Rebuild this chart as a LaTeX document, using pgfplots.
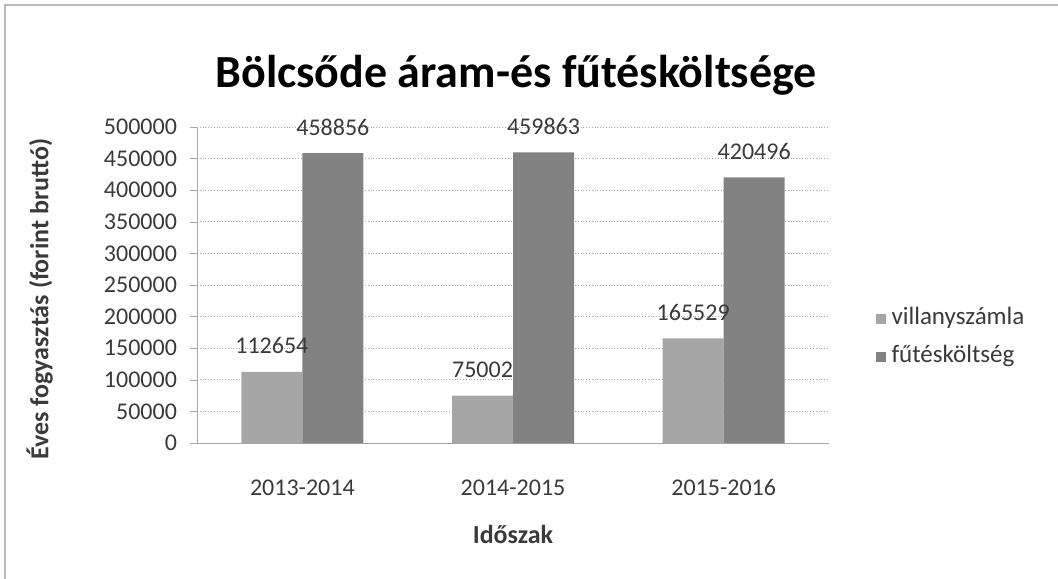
\documentclass[border=0pt]{standalone}
\usepackage{fontspec}
\setmainfont{Carlito}
\usepackage{pgfplots}
\pgfplotsset{compat=1.18}
\definecolor{villany}{HTML}{A6A6A6}
\definecolor{futes}{HTML}{828282}
\definecolor{txt}{HTML}{3A3A3A}
\begin{document}
\begin{tikzpicture}
\useasboundingbox (0,0) rectangle (529pt,289pt);
\draw[gray!55, line width=0.6pt] (2.5pt,-10pt) rectangle (545pt,286.5pt);
\begin{axis}[
  at={(98.5pt,67.5pt)}, anchor=south west,
  scale only axis, width=316pt, height=158pt,
  ybar=0pt, bar width=30.5pt,
  xmin=-0.5, xmax=2.5, ymin=0, ymax=500000,
  xtick=data, xticklabels={2013-2014,2014-2015,2015-2016},
  ytick={0,50000,...,500000},
  scaled y ticks=false,
  /pgf/number format/assume math mode=true,
  yticklabel={\pgfmathprintnumber[fixed,1000 sep={}]{\tick}},
  axis x line*=bottom, axis y line*=left,
  axis line style={gray!70, line width=0.5pt},
  x axis line style={-}, y axis line style={-},
  ymajorgrids, grid style={gray!70, densely dotted, line width=0.5pt},
  tick align=outside, major tick length=3.5pt,
  xtick style={draw=none}, ytick style={gray!70},
  tick label style={font=\fontsize{12}{14}\selectfont, text=txt},
  yticklabel style={xshift=-3pt},
  xticklabel style={yshift=-10pt, text height=9pt, text depth=2.5pt},
  xlabel={\bfseries Időszak},
  xlabel style={font=\fontsize{13}{15}\selectfont, text=txt, at={(axis description cs:0.5,-0.29)}, anchor=center},
  ylabel={\bfseries Éves fogyasztás (forint bruttó)},
  ylabel style={font=\fontsize{13}{15}\selectfont, text=txt, at={(axis description cs:-0.249,0.455)}, anchor=center},
  title={\bfseries Bölcsőde áram-és fűtésköltsége},
  title style={font=\fontsize{23}{26}\selectfont, at={(axis description cs:0.505,1.125)}, anchor=center, yshift=0pt},
  nodes near coords,
  nodes near coords style={font=\fontsize{12}{14}\selectfont, text=txt, anchor=base, yshift=9pt},
  point meta=explicit symbolic,
  legend style={at={(axis description cs:1.073,0.333)}, anchor=west, draw=none, fill=none,
    font=\fontsize{12.5}{14}\selectfont, text=txt, row sep=3pt, inner sep=0pt,
    nodes={text height=9pt, text depth=3pt, inner xsep=3pt}},
  legend cell align=left,
  legend image code/.code={\fill[#1] (0pt,-2.5pt) rectangle (5pt,2.5pt);},
]
\addplot[fill=villany, draw=none] coordinates {(0,112654)[112654] (1,75002)[75002] (2,165529)[165529]};
\addplot[fill=futes, draw=none] coordinates {(0,458856)[458856] (1,459863)[459863] (2,420496)[420496]};
\legend{villanyszámla, fűtésköltség}
\end{axis}
\end{tikzpicture}
\end{document}
